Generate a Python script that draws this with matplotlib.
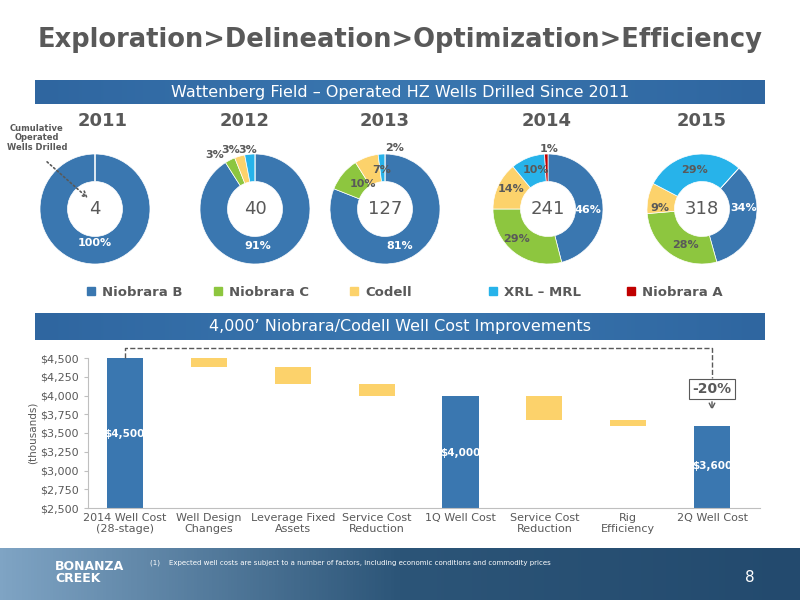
import numpy as np
import matplotlib.pyplot as plt
from matplotlib.colors import LinearSegmentedColormap
from matplotlib.patches import Rectangle
from matplotlib.ticker import FuncFormatter

# donut data
years = ["2011", "2012", "2013", "2014", "2015"]
wells = [4, 40, 127, 241, 318]
niobrara_b = [100, 91, 81, 46, 34]
niobrara_c = [0, 3, 10, 29, 28]
codell = [0, 3, 7, 14, 9]
xrl_mrl = [0, 3, 2, 10, 29]
niobrara_a = [0, 0, 0, 1, 0]
series_names = ["Niobrara B", "Niobrara C", "Codell", "XRL \u2013 MRL", "Niobrara A"]
colors = ["#3a77b0", "#8dc63f", "#fcd26b", "#27b3ea", "#c00000"]

# waterfall data (thousands)
steps = ["2014 Well Cost\n(28-stage)", "Well Design\nChanges", "Leverage Fixed\nAssets",
         "Service Cost\nReduction", "1Q Well Cost", "Service Cost\nReduction",
         "Rig\nEfficiency", "2Q Well Cost"]
tops = [4500, 4500, 4375, 4150, 4000, 4000, 3675, 3600]
bottoms = [2500, 4375, 4150, 4000, 2500, 3675, 3600, 2500]
totals = [True, False, False, False, True, False, False, True]

grey = "#595959"
fig = plt.figure(figsize=(8, 6), dpi=100)

# donuts
cx = [95, 255, 385, 548, 702]
year_x = [103, 245, 385, 547, 702]
starts = [90, 90, 90, 90, 48]
r = 55
for i in range(5):
    vals = [niobrara_b[i], niobrara_c[i], codell[i], xrl_mrl[i], niobrara_a[i]]
    ax = fig.add_axes([(cx[i] - r) / 800, 1 - (209 + r) / 600, 2 * r / 800, 2 * r / 600])
    ax.pie(vals, colors=colors, startangle=starts[i], counterclock=False,
           wedgeprops=dict(width=0.5, edgecolor="white", linewidth=0.5))
    ax.set_aspect("auto")
    ax.set_xlim(-1, 1)
    ax.set_ylim(-1, 1)
    ax.text(0, 0, str(wells[i]), ha="center", va="center", fontsize=13, color=grey)

# waterfall
wax = fig.add_axes([88 / 800, 1 - 508 / 600, (760 - 88) / 800, 150 / 600])
wax.patch.set_alpha(0)
xs = np.arange(len(steps))
for i in xs:
    c = "#3a77b0" if totals[i] else "#fcd26b"
    wax.bar(i, tops[i] - bottoms[i], bottom=bottoms[i], width=0.43, color=c)
wax.set_ylim(2500, 4500)
wax.set_xlim(-0.44, 7.57)
wax.set_yticks(np.arange(2500, 4501, 250))
wax.yaxis.set_major_formatter(FuncFormatter(lambda v, p: f"${v:,.0f}"))
wax.set_xticks(xs)
wax.set_xticklabels(steps, fontsize=8, color=grey)
wax.tick_params(axis="y", labelsize=8, labelcolor=grey, length=3, color="#bfbfbf")
wax.tick_params(axis="x", length=0)
for s in ["top", "right"]:
    wax.spines[s].set_visible(False)
for s in ["left", "bottom"]:
    wax.spines[s].set_color("#bfbfbf")
wax.set_ylabel("(thousands)", fontsize=7.5, color=grey, labelpad=2)
wax.text(0, 3450, "$4,500", ha="center", fontsize=7.5, fontweight="bold", color="white")
wax.text(4, 3200, "$4,000", ha="center", fontsize=7.5, fontweight="bold", color="white")
wax.text(7, 3020, "$3,600", ha="center", fontsize=7.5, fontweight="bold", color="white")

# overlay in pixel coordinates
bg = fig.add_axes([0, 0, 1, 1])
bg.patch.set_alpha(0)
bg.axis("off")

bg.text(400, 40, "Exploration>Delineation>Optimization>Efficiency", ha="center", va="center",
        fontsize=18.5, fontweight="bold", color=grey)

def banner(y0, h, text):
    grad = np.linspace(0, 1, 256).reshape(1, -1)
    bg.imshow(grad, extent=[35, 765, y0 + h, y0], aspect="auto", zorder=1,
              cmap=LinearSegmentedColormap.from_list("b", ["#2f66a0", "#3a77b0", "#2f66a0"]))
    bg.text(400, y0 + h / 2, text, ha="center", va="center", color="white", fontsize=11.5, zorder=2)

banner(80, 24, "Wattenberg Field \u2013 Operated HZ Wells Drilled Since 2011")
banner(313, 27, "4,000\u2019 Niobrara/Codell Well Cost Improvements")

# footer
grad = np.linspace(0, 1, 256).reshape(1, -1)
bg.imshow(grad, extent=[0, 800, 600, 548], aspect="auto", zorder=1,
          cmap=LinearSegmentedColormap.from_list("f", ["#7fa4c4", "#2c5578", "#234a6e"]))
bg.text(55, 572, "BONANZA\nCREEK", color="white", fontsize=9, fontweight="bold", va="center", ha="left",
        linespacing=0.9, zorder=2)
bg.text(150, 563, "(1)    Expected well costs are subject to a number of factors, including economic conditions and commodity prices",
        color="white", fontsize=5, va="center", zorder=2)
bg.text(745, 578, "8", color="white", fontsize=11, va="center", zorder=2)
bg.set_xlim(0, 800)
bg.set_ylim(600, 0)

for i in range(5):
    bg.text(year_x[i], 121, years[i], ha="center", va="center", fontsize=13, fontweight="bold", color=grey)

# percent labels (pixel positions)
lbls = [(95, 243, "100%", "white"), (258, 246, "91%", "white"), (215, 155, "3%", grey),
        (231, 150, "3%", grey), (248, 150, "3%", grey), (400, 246, "81%", "white"),
        (363, 184, "10%", grey), (382, 170, "7%", grey), (395, 148, "2%", grey),
        (588, 210, "46%", "white"), (517, 239, "29%", grey), (511, 189, "14%", grey),
        (536, 170, "10%", grey), (549, 149, "1%", grey), (744, 208, "34%", "white"),
        (685, 245, "28%", grey), (660, 208, "9%", grey), (694, 170, "29%", grey)]
for x, y, t, c in lbls:
    bg.text(x, y, t, ha="center", va="center", fontsize=8, fontweight="bold", color=c, zorder=5)

bg.text(37, 138, "Cumulative\nOperated\nWells Drilled", ha="center", va="center", fontsize=6,
        fontweight="bold", color=grey, linespacing=1.1)
bg.annotate("", xy=(90, 200), xytext=(45, 160),
            arrowprops=dict(arrowstyle="->", linestyle=":", color=grey, lw=1.2), zorder=6)

# legend
leg_x = [95, 222, 358, 497, 635]
for x, name, c in zip(leg_x, series_names, colors):
    bg.add_patch(Rectangle((x - 8, 287), 8, 8, color=c))
    bg.text(x + 7, 292, name, va="center", fontsize=9.5, fontweight="bold", color=grey)

# dashed connector and -20% call-out
bg.plot([125, 125, 712, 712], [358, 348, 348, 378], ls="--", color=grey, lw=1)
bg.text(712, 389, "-20%", ha="center", va="center", fontsize=10, fontweight="bold", color=grey,
        bbox=dict(boxstyle="square,pad=0.25", fc="white", ec=grey, lw=0.8))
bg.annotate("", xy=(712, 413), xytext=(712, 399),
            arrowprops=dict(arrowstyle="->", linestyle="--", color=grey, lw=1))

fig.savefig("out.png", dpi=100)
